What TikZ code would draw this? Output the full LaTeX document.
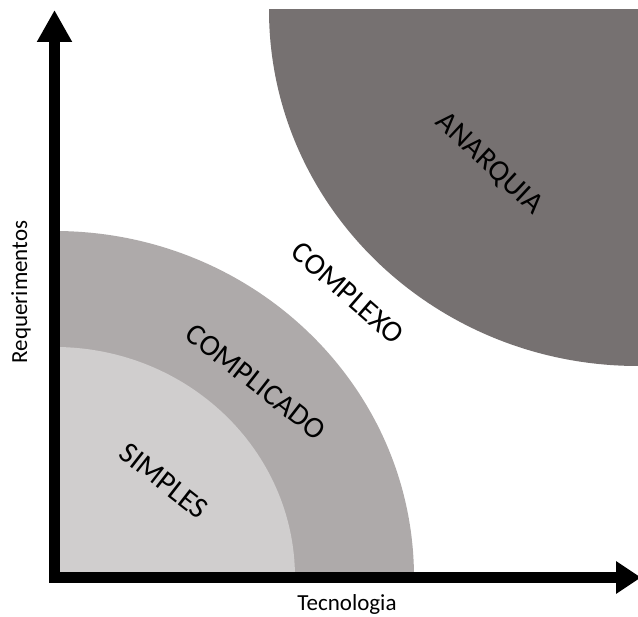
\documentclass[tikz,border=0pt]{standalone}
\usepackage{fontspec}
\setmainfont{Carlito}
\usetikzlibrary{arrows.meta}
\definecolor{darkzone}{HTML}{767171}
\definecolor{midzone}{HTML}{AEAAAA}
\definecolor{lightzone}{HTML}{D0CECE}
\tikzset{
  zonelabel/.style={font=\fontsize{30}{36}\selectfont, text=black, inner sep=0pt},
  axislabel/.style={font=\fontsize{23}{27}\selectfont, text=black, inner sep=0pt},
  axisline/.style={line width=11pt, black}
}
\begin{document}
\begin{tikzpicture}[x=1pt,y=-1pt]
\useasboundingbox (0,0) rectangle (638,617);
% zones
\begin{scope}
  \clip (0,10) rectangle (638,617);
  \fill[darkzone] (638,10) ellipse [x radius=369pt, y radius=356pt];
\end{scope}
\begin{scope}
  \clip (54.5,0) rectangle (638,577.5);
  \fill[midzone] (54.5,577.5) ellipse [x radius=359.5pt, y radius=346.5pt];
  \fill[lightzone] (54.5,577.5) ellipse [x radius=240.5pt, y radius=230.5pt];
\end{scope}
% axes
\coordinate (origin) at (54.5,583);
\coordinate (ytip) at (54.5,10);
\coordinate (xstart) at (49,577.5);
\coordinate (xtip) at (641,577.5);
\draw[axisline, -{Triangle[length=32pt,width=33pt]}] (origin) -- (ytip);
\draw[axisline, -{Triangle[length=25pt,width=31pt]}] (xstart) -- (xtip);
% labels
\node[zonelabel, rotate=-38] (simples) at (164,481) {SIMPLES};
\node[zonelabel, rotate=-38] (complicado) at (256,382) {COMPLICADO};
\node[zonelabel, rotate=-41] (complexo) at (348,293) {COMPLEXO};
\node[zonelabel, rotate=-43] (anarquia) at (489,164) {ANARQUIA};
\node[axislabel] (tec) at (347,604) {Tecnologia};
\node[axislabel, rotate=90] (req) at (21,292) {Requerimentos};
\end{tikzpicture}
\end{document}
